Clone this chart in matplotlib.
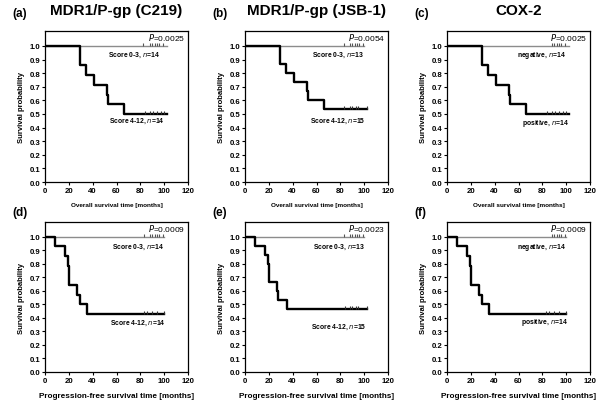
import numpy as np
import matplotlib
matplotlib.use("Agg")
import matplotlib.pyplot as plt

plt.rcParams['font.family'] = ['Liberation Sans', 'DejaVu Sans']

# Kaplan-Meier step data
# top row: overall survival, bottom row: progression-free survival
os_14_t = [0, 29, 34, 41, 52, 53, 66, 102]
os_14_s = [1.0, 0.857, 0.786, 0.714, 0.643, 0.571, 0.5, 0.5]
os_14_cens = [84, 88, 91, 94, 97, 100]

os_15_t = [0, 29, 34, 41, 52, 53, 66, 102]
os_15_s = [1.0, 0.867, 0.8, 0.733, 0.667, 0.6, 0.533, 0.533]
os_15_cens = [83, 88, 90, 93, 95, 102]

pfs_14_t = [0, 8, 17, 19, 20, 27, 29, 35, 100]
pfs_14_s = [1.0, 0.929, 0.857, 0.786, 0.643, 0.571, 0.5, 0.429, 0.429]
pfs_14_cens = [83, 86, 90, 94, 100]

pfs_15_t = [0, 8, 17, 19, 20, 27, 28, 35, 102]
pfs_15_s = [1.0, 0.933, 0.867, 0.8, 0.667, 0.6, 0.533, 0.467, 0.467]
pfs_15_cens = [84, 88, 90, 93, 95, 102]

ref_end = [102, 100, 102, 100, 100, 100]
ref_cens = [
    [82, 88, 90, 92, 94, 96, 99],
    [83, 88, 90, 92, 94, 96, 99],
    [88, 90, 92, 94, 96, 99],
    [83, 88, 90, 92, 94, 96, 99],
    [83, 88, 90, 92, 94, 96, 99],
    [88, 90, 92, 94, 96, 99],
]

labels = ['(a)', '(b)', '(c)', '(d)', '(e)', '(f)']
titles = ['MDR1/P-gp (C219)', 'MDR1/P-gp (JSB-1)', 'COX-2']
p_values = ['0.0025', '0.0054', '0.0025', '0.0009', '0.0023', '0.0009']
grp_hi = ['Score 0-3', 'Score 0-3', 'negative', 'Score 0-3', 'Score 0-3', 'negative']
grp_lo = ['Score 4-12', 'Score 4-12', 'positive', 'Score 4-12', 'Score 4-12', 'positive']
n_hi = [14, 13, 14, 14, 13, 14]
n_lo = [14, 15, 14, 14, 15, 14]
xlabels = ['Overall survival time [months]', 'Progression-free survival time [months]']
xlabel_size = [4.6, 5.9]

curves = [
    (os_14_t, os_14_s, os_14_cens),
    (os_15_t, os_15_s, os_15_cens),
    (os_14_t, os_14_s, os_14_cens),
    (pfs_14_t, pfs_14_s, pfs_14_cens),
    (pfs_15_t, pfs_15_s, pfs_15_cens),
    (pfs_14_t, pfs_14_s, pfs_14_cens),
]

# label positions (data coords)
hi_pos = [(75, 0.935), (78, 0.94), (79, 0.935), (78, 0.927), (79, 0.927), (79, 0.927)]
lo_pos = [(77, 0.45), (78, 0.45), (83, 0.44), (78, 0.37), (79, 0.34), (82, 0.37)]

fig = plt.figure(figsize=(6.0, 4.06), dpi=100)
W, H = 600.0, 406.0
col_x = [45, 245, 447]
row_y = [(32, 183), (223, 373)]
ax_w = 143

for i in range(6):
    r, c = divmod(i, 3)
    top, bot = row_y[r]
    ax = fig.add_axes([col_x[c] / W, 1 - bot / H, ax_w / W, (bot - top) / H])
    t, s, cens = curves[i]

    ax.plot([0, ref_end[i]], [1.0, 1.0], color='#8c8c8c', lw=1.0)
    ax.plot(ref_cens[i], [1.0] * len(ref_cens[i]), ls='none', marker=2,
            ms=2.5, mew=0.8, color='#555555')
    ax.step(t, s, where='post', color='black', lw=1.7)
    ax.plot(cens, [s[-1]] * len(cens), ls='none', marker=2,
            ms=2.5, mew=0.8, color='#333333')

    ax.set_xlim(0, 120)
    ax.set_ylim(0, 1.11)
    ax.set_xticks(np.arange(0, 121, 20))
    ax.set_yticks(np.arange(0, 1.01, 0.1))
    ax.set_yticklabels(['%.1f' % v for v in np.arange(0, 1.01, 0.1)])
    ax.tick_params(labelsize=5.6, length=2, width=0.8, pad=1.5)
    for lab in ax.get_xticklabels() + ax.get_yticklabels():
        lab.set_fontweight('bold')
    for sp in ax.spines.values():
        sp.set_linewidth(0.9)

    ax.set_ylabel('Survival probability', fontsize=5.5, fontweight='bold', labelpad=3)
    ax.set_xlabel(xlabels[r], fontsize=xlabel_size[r], fontweight='bold', labelpad=6)

    ax.text(118, 1.07, r'$\it{P}$=' + p_values[i], ha='right', va='center', fontsize=6)
    ax.text(hi_pos[i][0], hi_pos[i][1], grp_hi[i] + ', ' + r'$\bf{\it{n}}$=' + str(n_hi[i]),
            ha='center', va='center', fontsize=4.9, fontweight='bold')
    ax.text(lo_pos[i][0], lo_pos[i][1], grp_lo[i] + ', ' + r'$\bf{\it{n}}$=' + str(n_lo[i]),
            ha='center', va='center', fontsize=4.9, fontweight='bold')

    if r == 0:
        ax.set_title(titles[c], fontsize=11, fontweight='bold', pad=12)
    lab_y = 14 if r == 0 else 213
    fig.text((col_x[c] - 33) / W, 1 - lab_y / H, labels[i], fontsize=8.5,
             fontweight='bold', va='center')

fig.savefig('out.png', dpi=100)
